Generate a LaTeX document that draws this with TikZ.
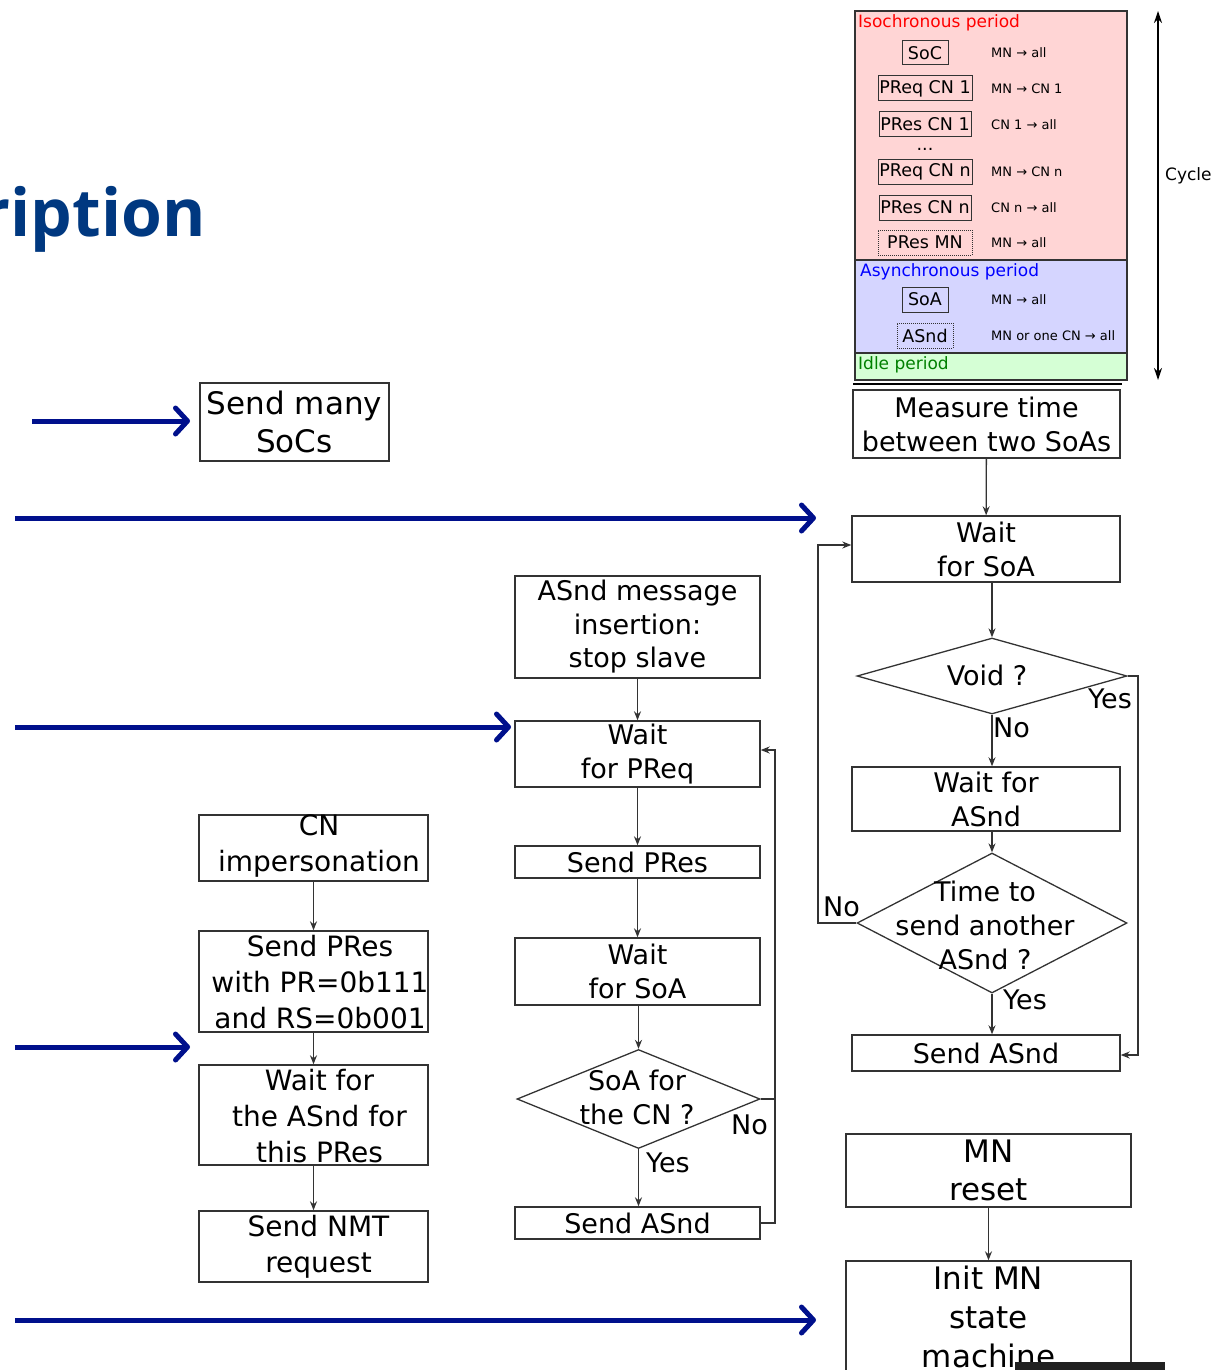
\documentclass[tikz,border=0pt]{standalone}
\usepackage{fontspec}
\setmainfont{DejaVu Sans}
\newfontfamily\titlefont{Open Sans}
\usetikzlibrary{shapes.geometric,arrows.meta}

\definecolor{linec}{HTML}{333333}
\definecolor{navyarr}{RGB}{0,16,140}
\definecolor{titleblue}{RGB}{0,56,128}
\definecolor{isoc}{HTML}{FFD5D5}
\definecolor{asyc}{HTML}{D5D5FF}
\definecolor{idlec}{HTML}{D5FFD5}
\definecolor{idlegreen}{RGB}{0,128,0}

\tikzset{
  fbox/.style={draw=linec, line width=1.4pt, rectangle, inner sep=0pt, align=center, font=\fontsize{27}{34}\selectfont},
  bigbox/.style={fbox, font=\fontsize{31}{38}\selectfont},
  lbox/.style={fbox, font=\fontsize{28}{36}\selectfont},
  dia/.style={draw=linec, line width=1.3pt, diamond, inner sep=0pt},
  txt/.style={align=center, inner sep=0pt, font=\fontsize{27}{34}\selectfont},
  ltxt/.style={txt, font=\fontsize{28}{36}\selectfont},
  flow/.style={draw=linec, line width=1.3pt, -{Stealth[length=9pt,width=7pt]}},
  plain/.style={draw=linec, line width=1.3pt},
  bluearr/.style={draw=navyarr, line width=5pt, -{Straight Barb[length=12pt,width=26pt,line cap=round,line join=round]}},
  sbox/.style={draw=linec, line width=1pt, rectangle, inner sep=0pt, font=\fontsize{17.5}{20}\selectfont},
  dbox/.style={sbox, densely dotted},
  lab/.style={anchor=west, inner sep=0pt, font=\fontsize{13}{15}\selectfont},
  period/.style={anchor=west, inner sep=0pt, font=\fontsize{17}{20}\selectfont},
}

\begin{document}
\begin{tikzpicture}[x=1pt,y=-1pt]
\useasboundingbox (0,0) rectangle (1229,1370);

% title fragment
\node[anchor=base east, inner sep=0pt, text=titleblue, font=\titlefont\bfseries\fontsize{66}{70}\selectfont] (title) at (206,236) {ription};

% ---------- top right panel ----------
\draw[linec, line width=1.2pt, fill=isoc] (855,11) rectangle (1127,260);
\draw[linec, line width=1.2pt, fill=asyc] (855,260) rectangle (1127,353);
\draw[linec, line width=1.2pt, fill=idlec] (855,353) rectangle (1127,380);
\draw[black, line width=1.8pt] (853,384) -- (1122,384);

\node[period, text=red] (iso) at (858,23) {Isochronous period};
\node[period, text=blue] (asy) at (860,272) {Asynchronous period};
\node[period, text=idlegreen] (idle) at (858,365) {Idle period};

\node[sbox, minimum width=46pt, minimum height=24pt] (soc) at (925,53) {SoC};
\node[sbox, minimum width=94pt, minimum height=25pt] (preq1) at (925,88.5) {PReq CN 1};
\node[sbox, minimum width=92pt, minimum height=25pt] (pres1) at (925,124.5) {PRes CN 1};
\node[anchor=base, inner sep=0pt, font=\fontsize{17.5}{20}\selectfont] (dots) at (925,150) {...};
\node[sbox, minimum width=94pt, minimum height=25pt] (preqn) at (925,171.5) {PReq CN n};
\node[sbox, minimum width=92pt, minimum height=25pt] (presn) at (925,207.5) {PRes CN n};
\node[dbox, minimum width=94pt, minimum height=25pt] (presmn) at (925,242.5) {PRes MN};
\node[sbox, minimum width=46pt, minimum height=25pt] (soa) at (925,299.5) {SoA};
\node[dbox, minimum width=56pt, minimum height=25pt] (asnd) at (925,335.5) {ASnd};

\node[lab] (l1) at (991,53) {MN → all};
\node[lab] (l2) at (991,89) {MN → CN 1};
\node[lab] (l3) at (991,125) {CN 1 → all};
\node[lab] (l4) at (991,172) {MN → CN n};
\node[lab] (l5) at (991,208) {CN n → all};
\node[lab] (l6) at (991,243) {MN → all};
\node[lab] (l7) at (991,300) {MN → all};
\node[lab] (l8) at (991,336) {MN or one CN → all};

\coordinate (cyT) at (1158,11);
\coordinate (cyB) at (1158,380);
\draw[black, line width=1.2pt, {Stealth[length=12pt,width=8pt]}-{Stealth[length=12pt,width=8pt]}] (cyT) -- (cyB);
\node[anchor=west, inner sep=0pt, font=\fontsize{17}{20}\selectfont] (cycle) at (1165,176) {Cycle};

% ---------- left column ----------
\node[bigbox, minimum width=189pt, minimum height=78pt] (many) at (294.5,422) {Send many\\SoCs};
\node[lbox, minimum width=229pt, minimum height=66pt] (cnimp) at (313.5,848) {};
\node[ltxt] (cnimpt) at (319,846) {CN\\impersonation};
\node[lbox, minimum width=229pt, minimum height=101pt] (spres1) at (313.5,981.5) {};
\node[ltxt] (spres1t) at (320,982) {Send PRes\\with PR=0b111\\and RS=0b001};
\node[lbox, minimum width=229pt, minimum height=100pt] (wasnd1) at (313.5,1115) {};
\node[ltxt] (wasnd1t) at (319.5,1116) {Wait for\\the ASnd for\\this PRes};
\node[lbox, minimum width=229pt, minimum height=71pt] (snmt) at (313.5,1246.5) {};
\node[ltxt] (snmtt) at (318.5,1247) {Send NMT\\request};

\draw[flow] (cnimp) -- (spres1);
\draw[flow] (spres1) -- (wasnd1);
\draw[flow] (wasnd1) -- (snmt);

% ---------- middle column ----------
\node[fbox, minimum width=245pt, minimum height=102pt, font=\fontsize{27}{33.5}\selectfont] (amsg) at (637.5,627) {ASnd message\\insertion:\\stop slave};
\node[fbox, minimum width=245pt, minimum height=66pt] (wpreq) at (637.5,754) {Wait\\for PReq};
\node[fbox, minimum width=245pt, minimum height=32pt] (spres2) at (637.5,862) {Send PRes};
\node[fbox, minimum width=245pt, minimum height=67pt] (wsoa2) at (637.5,971.5) {Wait\\for SoA};
\node[dia, minimum width=243pt, minimum height=99pt] (socn) at (638.5,1099) {};
\node[txt] (socnt) at (637,1097.5) {SoA for\\the CN ?};
\node[fbox, minimum width=245pt, minimum height=32pt] (sasnd2) at (637.5,1223) {Send ASnd};

\draw[flow] (amsg) -- (wpreq);
\draw[flow] (wpreq) -- (spres2);
\draw[flow] (spres2) -- (wsoa2);
\draw[flow] (wsoa2.south) -- (wsoa2.south -| socn.north) -- (socn.north);
\draw[flow] (socn.south) -- (sasnd2.north -| socn.south);
\node[txt, anchor=west] (yes1) at (646,1163) {Yes};
\node[txt, anchor=west] (no1) at (731,1125) {No};

\coordinate (loopM) at (775,750);
\draw[flow] (sasnd2.east) -| (loopM) -- (wpreq.east |- loopM);
\draw[plain] (socn.east) -- (socn.east -| loopM);

% ---------- right column ----------
\node[fbox, minimum width=267pt, minimum height=68pt] (meas) at (986.5,424) {Measure time\\between two SoAs};
\node[fbox, minimum width=268pt, minimum height=66pt] (wsoa1) at (986,549) {Wait\\for SoA};
\node[dia, minimum width=270pt, minimum height=76pt] (void) at (992,676) {};
\node[txt] (voidt) at (987,675) {Void ?};
\node[fbox, minimum width=268pt, minimum height=64pt] (wasnd2) at (986,799) {Wait for\\ASnd};
\node[dia, minimum width=270pt, minimum height=140pt] (tsend) at (992,923) {};
\node[txt] (tsendt) at (985,925) {Time to\\send another\\ASnd ?};
\node[fbox, minimum width=268pt, minimum height=36pt] (sasnd1) at (986,1053) {Send ASnd};

\draw[flow] (meas) -- (wsoa1);
\draw[flow] (void.north |- wsoa1.south) -- (void.north);
\draw[flow] (void.south) -- (void.south |- wasnd2.north);
\draw[flow] (void.south |- wasnd2.south) -- (tsend.north);
\draw[flow] (tsend.south) -- (tsend.south |- sasnd1.north);
\node[txt, anchor=west] (no2) at (993,728) {No};
\node[txt, anchor=west] (yes2) at (1088,699) {Yes};
\node[txt, anchor=west] (no3) at (823,907) {No};
\node[txt, anchor=west] (yes3) at (1003,1000) {Yes};

\coordinate (loopR) at (1138,1055);
\draw[flow] (void.east) -| (loopR) -- (sasnd1.east |- loopR);
\coordinate (loopL) at (818,545);
\draw[flow] (tsend.west) -| (loopL) -- (wsoa1.west |- loopL);

\node[bigbox, minimum width=285pt, minimum height=73pt] (mnr) at (988.5,1170.5) {MN\\reset};
\node[bigbox, minimum width=285pt, minimum height=112pt, font=\fontsize{31}{39}\selectfont] (initmn) at (988.5,1317) {Init MN\\state\\machine};
\draw[flow] (mnr) -- (initmn);

\fill[black!87] (1015,1362) rectangle (1165,1370);

% ---------- blue arrows ----------
\coordinate (b1s) at (32,421);   \coordinate (b1e) at (190,421);
\coordinate (b2s) at (15,518);   \coordinate (b2e) at (816,518);
\coordinate (b3s) at (15,727);   \coordinate (b3e) at (511,727);
\coordinate (b4s) at (15,1047);  \coordinate (b4e) at (190,1047);
\coordinate (b5s) at (15,1320);  \coordinate (b5e) at (816,1320);
\draw[bluearr] (b1s) -- (b1e);
\draw[bluearr] (b2s) -- (b2e);
\draw[bluearr] (b3s) -- (b3e);
\draw[bluearr] (b4s) -- (b4e);
\draw[bluearr] (b5s) -- (b5e);
\end{tikzpicture}
\end{document}
